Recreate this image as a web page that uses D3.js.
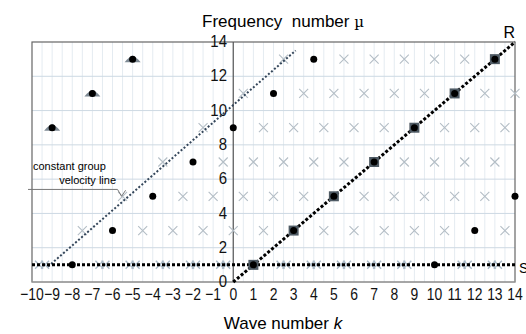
<!DOCTYPE html>
<html><head><meta charset="utf-8">
<script src="https://cdn.jsdelivr.net/npm/d3@7"></script>
<style>body{margin:0;background:#fff}svg{display:block;font-family:"Liberation Sans",Arial,sans-serif}</style>
</head><body><svg id="c" width="526" height="334"></svg>
<script>
// ---- data ----
const xTicks = d3.range(-10, 15);
const yTicks = [0, 2, 4, 6, 8, 10, 12, 14];
const dotK  = [-8, -6, -4, -2, 0, 2, 4, 10, 12, 14];
const dotMu = [ 1,  3,  5,  7, 9, 11, 13, 1, 3, 5];
const humpK  = [-9, -7, -5];
const humpMu = [ 9, 11, 13];
const squareK  = [1, 3, 5, 7, 9, 11, 13];
const squareMu = [1, 3, 5, 7, 9, 11, 13];
const crossMu = [3, 5, 7, 9, 11, 13];
const crossK = [
  [-7.5, -4.5, -3, -1.5, 0, 1.5, 4.5, 6, 7.5, 9, 10.5, 13.5],
  [-5.5, -2.5, -1, 0.5, 2, 3.5, 6.5, 8, 9.5, 11, 12.5],
  [-3.5, -0.5, 1, 2.5, 4, 5.5, 8.5, 10, 11.5, 13],
  [-1.5, 1.5, 3, 4.5, 6, 7.5, 10.5, 12, 13.5],
  [0.5, 3.5, 5, 6.5, 8, 9.5, 12.5, 14],
  [2.5, 5.5, 7, 8.5, 10, 11.5]
];
const bowK = [-9.5, -6.5, -5, -3.5, -2, -0.5, 2.5, 4, 5.5, 7, 8.5, 11.5, 13];
const bowMu = 1;
const lineR = [[0, 0], [14, 14]];
const lineS = [[-10, 1], [14, 1]];
const lineCG = [[-9.2, 0.9], [3.1, 13.5]];

// ---- chart ----
const svg = d3.select("#c");
const x = d3.scaleLinear().domain([-10, 14]).range([32, 515]);
const y = d3.scaleLinear().domain([0, 14]).range([282, 42]);

// grid
svg.append("g").selectAll("line").data(d3.range(-9.5, 14, 0.5)).join("line")
  .attr("x1", d => x(d)).attr("x2", d => x(d)).attr("y1", y(14)).attr("y2", y(0))
  .attr("stroke", "#e4ebf1").attr("stroke-width", 1);
svg.append("g").selectAll("line").data(yTicks.filter(v => v > 0 && v < 14)).join("line")
  .attr("x1", x(-10)).attr("x2", x(14)).attr("y1", d => y(d)).attr("y2", d => y(d))
  .attr("stroke", "#cdd9e3").attr("stroke-width", 1);
// frame
svg.append("rect").attr("x", x(-10)).attr("y", y(14)).attr("width", x(14) - x(-10)).attr("height", y(0) - y(14))
  .attr("fill", "none").attr("stroke", "#666").attr("stroke-width", 1.2);
svg.append("line").attr("x1", x(-10)).attr("x2", x(14)).attr("y1", y(0)).attr("y2", y(0)).attr("stroke", "#aaa");
svg.append("line").attr("x1", x(0)).attr("x2", x(0)).attr("y1", y(14)).attr("y2", y(0)).attr("stroke", "#555").attr("stroke-width", 1.2);

// axes labels (slightly condensed like the reference)
svg.append("g").selectAll("text").data(xTicks).join("text")
  .attr("transform", d => `translate(${x(d)},300) scale(0.82,1)`).attr("text-anchor", "middle")
  .attr("font-size", 17).attr("fill", "#111")
  .text(d => d < 0 ? "\u2212" + Math.abs(d) : d);
svg.append("g").selectAll("text").data(yTicks).join("text")
  .attr("transform", d => `translate(227,${y(d) - 1}) scale(0.88,1)`).attr("dy", "0.36em").attr("text-anchor", "end")
  .attr("font-size", 17).attr("fill", "#111").text(d => d);

// crosses
const lineGen = d3.line().x(d => x(d[0])).y(d => y(d[1]));
const crossPts = crossMu.flatMap((m, i) => crossK[i].map(k => [k, m]));
svg.append("g").selectAll("path").data(crossPts).join("path")
  .attr("d", d => { const cx = x(d[0]), cy = y(d[1]), r = 4.5;
    return `M${cx-r},${cy-r}L${cx+r},${cy+r}M${cx-r},${cy+r}L${cx+r},${cy-r}`; })
  .attr("stroke", "#b4bec6").attr("stroke-width", 1.1).attr("fill", "none");
// bowties on mu=1
svg.append("g").selectAll("path").data(bowK).join("path")
  .attr("d", k => { const cx = x(k), cy = y(bowMu), r = 4, o = 3;
    return `M${cx-o-r},${cy-r}L${cx-o+r},${cy+r}M${cx-o-r},${cy+r}L${cx-o+r},${cy-r}` +
           `M${cx+o-r},${cy-r}L${cx+o+r},${cy+r}M${cx+o-r},${cy+r}L${cx+o+r},${cy-r}`; })
  .attr("stroke", "#a9b9c6").attr("stroke-width", 1.4).attr("fill", "none");

// lines
svg.append("path").attr("d", lineGen(lineCG)).attr("stroke", "#34465a").attr("stroke-width", 2)
  .attr("stroke-dasharray", "2,2").attr("fill", "none");
svg.append("path").attr("d", lineGen(lineS)).attr("stroke", "#000").attr("stroke-width", 3)
  .attr("stroke-dasharray", "3,2").attr("fill", "none");
svg.append("path").attr("d", lineGen(lineR)).attr("stroke", "#000").attr("stroke-width", 3)
  .attr("stroke-dasharray", "3,2").attr("fill", "none");

// humps
svg.append("g").selectAll("path").data(humpK.map((k, i) => [k, humpMu[i]])).join("path")
  .attr("d", d => { const cx = x(d[0]), cy = y(d[1]);
    return `M${cx-8},${cy+3}Q${cx-3},${cy-3} ${cx},${cy-3.5}Q${cx+3},${cy-3} ${cx+8},${cy+3}Z`; })
  .attr("fill", "#7e8a94");
// squares
svg.append("g").selectAll("rect").data(squareK.map((k, i) => [k, squareMu[i]])).join("rect")
  .attr("x", d => x(d[0]) - 5).attr("y", d => y(d[1]) - 5).attr("width", 10).attr("height", 10)
  .attr("fill", "#4e5a64");
// dots
const allDots = dotK.map((k, i) => [k, dotMu[i]])
  .concat(humpK.map((k, i) => [k, humpMu[i]]))
  .concat(squareK.map((k, i) => [k, squareMu[i]]));
svg.append("g").selectAll("circle").data(allDots).join("circle")
  .attr("cx", d => x(d[0])).attr("cy", d => y(d[1])).attr("r", 3.5).attr("fill", "#000");

// line labels
svg.append("text").attr("x", x(14)).attr("y", 38).attr("text-anchor", "end").attr("font-size", 16).text("R");
svg.append("text").attr("x", 519).attr("y", y(1) + 8).attr("font-size", 14).text("S");

// annotation
svg.append("path").attr("d", `M28,${y(5.4)}L${x(-5.75)},${y(5.4)}L${x(-5.55)},${y(5.0)}L${x(-5.35)},${y(5.35)}`)
  .attr("stroke", "#777").attr("fill", "none").attr("stroke-width", 1);
svg.append("text").attr("x", 33).attr("y", 170).attr("font-size", 11).text("constant group");
svg.append("text").attr("x", 116).attr("y", 184).attr("text-anchor", "end").attr("font-size", 11).text("velocity line");

// titles
const t1 = svg.append("text").attr("x", 283).attr("y", 27).attr("text-anchor", "middle").attr("font-size", 17);
t1.append("tspan").text("Frequency\u00a0 number ");
t1.append("tspan").attr("font-family", "DejaVu Serif").attr("font-size", 15).text("\u00b5");
const t2 = svg.append("text").attr("x", 283).attr("y", 329).attr("text-anchor", "middle").attr("font-size", 17);
t2.append("tspan").text("Wave number ");
t2.append("tspan").attr("font-style", "italic").text("k");
</script></body></html>
